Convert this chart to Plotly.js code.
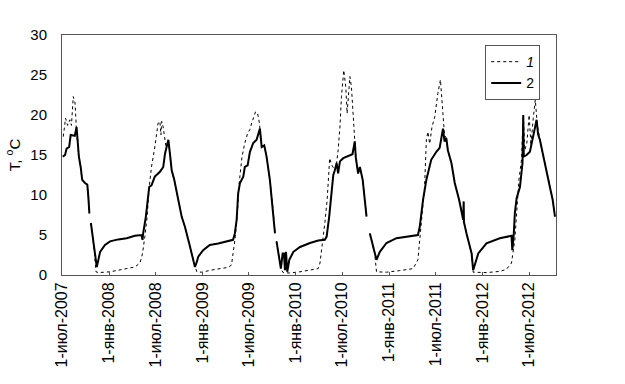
<!DOCTYPE html>
<html>
<head>
<meta charset="utf-8">
<script src="https://cdn.plot.ly/plotly-3.0.1.min.js"></script>
<style>html,body{margin:0;padding:0;background:#fff;}#chart{width:625px;height:384px;}</style>
</head>
<body>
<div id="chart"></div>
<script>
// Series 2 (solid line)
var dates2 = [
"2007-07-04","2007-07-13","2007-07-19","2007-07-29","2007-08-04","2007-08-20","2007-08-27","2007-08-30","2007-09-05","2007-09-12",
"2007-09-18","2007-09-29","2007-10-08","2007-10-12","2007-10-16","2007-10-19","2007-10-22","2007-10-29","2007-11-04","2007-11-14",
"2007-11-19","2007-11-27","2007-12-16","2008-01-05","2008-02-06","2008-03-10","2008-04-11","2008-05-07","2008-05-11","2008-05-13",
"2008-05-24","2008-06-02","2008-06-06","2008-06-15","2008-06-28","2008-07-18","2008-07-31","2008-08-07","2008-08-20","2008-08-26",
"2008-09-02","2008-09-12","2008-09-22","2008-10-01","2008-10-11","2008-10-24","2008-11-04","2008-11-13","2008-11-22","2008-12-02",
"2008-12-09","2008-12-15","2009-01-03","2009-01-29","2009-03-03","2009-04-04","2009-04-30","2009-05-07","2009-05-14","2009-05-20",
"2009-05-27","2009-06-09","2009-06-15","2009-06-26","2009-07-05","2009-07-18","2009-07-31","2009-08-13","2009-08-20","2009-08-30",
"2009-09-08","2009-09-21","2009-10-04","2009-10-11","2009-10-14","2009-10-17","2009-10-27","2009-11-03","2009-11-10","2009-11-15",
"2009-11-19","2009-11-23","2009-11-28","2009-12-06","2009-12-22","2010-01-17","2010-02-25","2010-03-29","2010-04-24","2010-05-01",
"2010-05-11","2010-05-20","2010-05-27","2010-06-02","2010-06-09","2010-06-15","2010-06-22","2010-07-05","2010-07-24","2010-08-10",
"2010-08-19","2010-08-23","2010-09-01","2010-09-08","2010-09-19","2010-10-04","2010-10-09","2010-10-17","2010-10-30","2010-11-12",
"2010-11-25","2010-12-21","2011-01-29","2011-03-22","2011-04-23","2011-04-30","2011-05-13","2011-05-26","2011-06-14","2011-07-04",
"2011-07-17","2011-07-30","2011-08-05","2011-08-12","2011-08-18","2011-09-01","2011-09-14","2011-10-01","2011-10-17","2011-10-19",
"2011-10-20","2011-10-30","2011-11-12","2011-11-19","2011-11-25","2011-11-30","2011-12-15","2012-01-16","2012-03-08","2012-04-23",
"2012-04-26","2012-05-02","2012-05-06","2012-05-13","2012-05-26","2012-06-05","2012-06-08","2012-06-10","2012-06-21","2012-07-04",
"2012-07-17","2012-07-23","2012-07-30","2012-08-05","2012-08-12","2012-08-25","2012-09-07","2012-09-20","2012-10-01","2012-10-10"
];
var temp2 = [
14.8,15.0,15.8,16.0,17.5,17.4,18.5,17.2,14.8,13.5,
11.9,11.5,11.3,9.8,7.7,null,6.5,4.8,3.1,1.0,
1.7,2.9,3.75,4.2,4.45,4.6,4.9,5.0,4.4,5.1,
7.3,10.2,11.0,11.2,12.3,12.9,13.5,15.2,16.9,15.2,
13.1,11.9,10.2,9.0,7.3,6.0,4.8,3.5,2.3,1.0,
1.6,2.3,3.1,3.75,3.95,4.2,4.4,5.2,6.9,10.2,
11.5,12.3,13.5,13.7,15.4,16.5,16.9,18.3,16.0,16.2,
14.8,11.9,8.1,5.2,null,4.2,2.3,0.8,2.7,2.7,
0.6,2.9,0.4,1.9,2.9,3.5,4.0,4.3,4.4,4.8,
7.3,10.2,12.5,13.1,14.0,12.7,14.2,14.6,14.9,15.1,
16.7,14.7,12.7,13.5,11.9,7.3,null,5.2,3.5,1.9,
2.9,4.0,4.6,4.9,5.0,6.0,9.4,11.9,14.4,15.4,
15.9,18.3,16.7,17.1,15.6,14.0,11.5,9.4,6.9,9.2,
6.6,5.2,3.5,2.7,0.6,1.1,2.7,3.95,4.6,4.9,
3.1,5.2,7.7,9.6,11.0,14.0,20.0,14.8,15.0,15.4,
17.7,18.3,19.4,17.6,16.9,14.8,13.1,11.0,9.4,7.3
];

// Series 1 (dotted line)
var dates1 = [
"2007-07-06","2007-07-15","2007-07-23","2007-08-01","2007-08-07","2007-08-14","2007-08-21","2007-08-27","2007-09-05","2007-09-12",
"2007-09-18","2007-09-29","2007-10-08","2007-10-12","2007-10-16","2007-10-19","2007-10-22","2007-10-29","2007-11-04","2007-11-11",
"2007-11-20","2008-01-05","2008-03-10","2008-04-11","2008-05-01","2008-05-11","2008-05-20","2008-05-29","2008-06-06","2008-06-15",
"2008-06-28","2008-07-11","2008-07-18","2008-07-22","2008-07-25","2008-07-30","2008-08-11","2008-08-20","2008-08-26","2008-09-02",
"2008-09-12","2008-09-22","2008-10-01","2008-10-11","2008-10-24","2008-11-04","2008-11-13","2008-11-22","2008-12-02","2008-12-09",
"2008-12-28","2009-02-18","2009-04-11","2009-04-24","2009-04-30","2009-05-09","2009-05-17","2009-05-22","2009-06-04","2009-06-15",
"2009-06-26","2009-07-05","2009-07-12","2009-07-22","2009-07-27","2009-08-04","2009-08-11","2009-08-20","2009-08-30","2009-09-08",
"2009-09-21","2009-10-04","2009-10-11","2009-10-14","2009-10-17","2009-10-27","2009-11-03","2009-11-12","2009-12-06","2010-01-17",
"2010-02-25","2010-03-29","2010-04-05","2010-04-13","2010-04-24","2010-05-03","2010-05-09","2010-05-13","2010-05-20","2010-06-02",
"2010-06-09","2010-06-15","2010-06-22","2010-06-28","2010-07-07","2010-07-15","2010-07-20","2010-07-26","2010-07-31","2010-08-06",
"2010-08-13","2010-08-19","2010-08-23","2010-09-01","2010-09-08","2010-09-19","2010-10-04","2010-10-09","2010-10-17","2010-10-30",
"2010-11-05","2010-11-12","2010-12-21","2011-02-11","2011-04-04","2011-04-23","2011-05-06","2011-05-19","2011-05-26","2011-06-01",
"2011-06-08","2011-06-17","2011-06-28","2011-07-04","2011-07-10","2011-07-20","2011-07-28","2011-08-05","2011-08-12","2011-08-18",
"2011-09-01","2011-09-14","2011-10-01","2011-10-17","2011-10-30","2011-11-12","2011-11-19","2011-11-25","2012-01-16","2012-03-08",
"2012-04-03","2012-04-23","2012-05-06","2012-05-13","2012-05-22","2012-06-01","2012-06-08","2012-06-14","2012-06-22","2012-07-01",
"2012-07-08","2012-07-17","2012-07-25","2012-08-02","2012-08-12","2012-08-25","2012-09-07","2012-09-20","2012-10-01","2012-10-10"
];
var temp1 = [
17.3,19.6,18.7,19.4,18.7,22.3,21.5,17.8,14.8,13.5,
11.9,11.5,11.3,9.8,7.7,null,6.5,4.8,3.1,0.4,
0.3,0.4,0.8,1.0,1.5,2.7,4.8,7.3,11.0,13.5,
16.0,19.0,19.2,17.5,19.2,18.6,16.0,16.9,15.2,13.1,
11.9,10.2,9.0,7.3,6.0,4.8,3.5,2.3,1.0,0.4,
0.35,0.7,0.95,1.25,2.7,4.8,7.7,10.9,14.8,16.5,
17.7,18.2,19.0,19.8,20.4,20.2,19.0,16.0,16.2,14.8,
11.9,8.1,5.2,null,4.2,2.3,0.8,0.3,0.25,0.4,
0.6,0.8,1.5,3.5,6.5,9.4,12.3,14.6,13.8,13.1,
14.0,15.6,18.5,22.3,25.6,23.5,20.2,23.1,24.8,23.5,
20.2,16.7,14.7,12.7,13.5,11.9,7.3,null,5.2,3.5,
2.7,0.4,0.35,0.55,0.8,1.9,6.9,11.0,16.9,17.9,
16.4,18.5,19.8,21.5,22.7,24.4,21.0,17.5,17.1,15.6,
14.0,11.5,9.4,6.9,5.2,3.5,2.7,0.35,0.3,0.45,
0.7,1.5,4.4,7.7,11.9,14.4,20.0,15.6,16.5,20.0,
16.2,19.6,21.9,18.7,16.9,14.8,13.1,11.0,9.4,7.3
];

var tickDates = ["2007-07-01","2008-01-01","2008-07-01","2009-01-01","2009-07-01","2010-01-01","2010-07-01","2011-01-01","2011-07-01","2012-01-01","2012-07-01"];
var tickLabels = ["1-июл-2007","1-янв-2008","1-июл-2008","1-янв-2009","1-июл-2009","1-янв-2010","1-июл-2010","1-янв-2011","1-июл-2011","1-янв-2012","1-июл-2012"];
var yTicks = [0,5,10,15,20,25,30];

var fam = "Liberation Sans, Arial, sans-serif";
var font = {family: fam, size: 15, color: "#000"};
var xFont = {family: fam, size: 16, color: "#000"};
var legFont = {family: fam, size: 14, color: "#000"};

var traces = [
  {x: dates1, y: temp1, name: "<i>1</i>", mode: "lines", connectgaps: false,
   line: {color: "#000", width: 1, dash: "dot"}},
  {x: dates2, y: temp2, name: "2", mode: "lines", connectgaps: false,
   line: {color: "#000", width: 2}}
];

var layout = {
  width: 625, height: 384,
  margin: {l: 62, r: 69, t: 35, b: 109},
  paper_bgcolor: "#fff", plot_bgcolor: "#fff",
  font: font,
  showlegend: true,
  legend: {x: 0.968, y: 0.958, xanchor: "right", yanchor: "top",
    bordercolor: "#555", borderwidth: 1, bgcolor: "#fff",
    font: legFont, itemwidth: 30, tracegroupgap: 0},
  xaxis: {type: "date", range: ["2007-07-01", "2012-10-14"],
    tickvals: tickDates, ticktext: tickLabels, tickangle: -90,
    ticks: "inside", ticklen: 3, tickcolor: "#555",
    showline: true, linecolor: "#555", linewidth: 1, mirror: true,
    showgrid: false, zeroline: false, tickfont: xFont},
  yaxis: {range: [0, 30], tickvals: yTicks,
    ticks: "outside", ticklen: 11, tickcolor: "rgba(0,0,0,0)",
    showline: true, linecolor: "#555", linewidth: 1, mirror: true,
    showgrid: false, zeroline: false, tickfont: font,
    title: {text: "T, <sup>o</sup>C", font: font, standoff: 6}}
};

Plotly.newPlot("chart", traces, layout, {staticPlot: true, displayModeBar: false});
</script>
</body>
</html>
